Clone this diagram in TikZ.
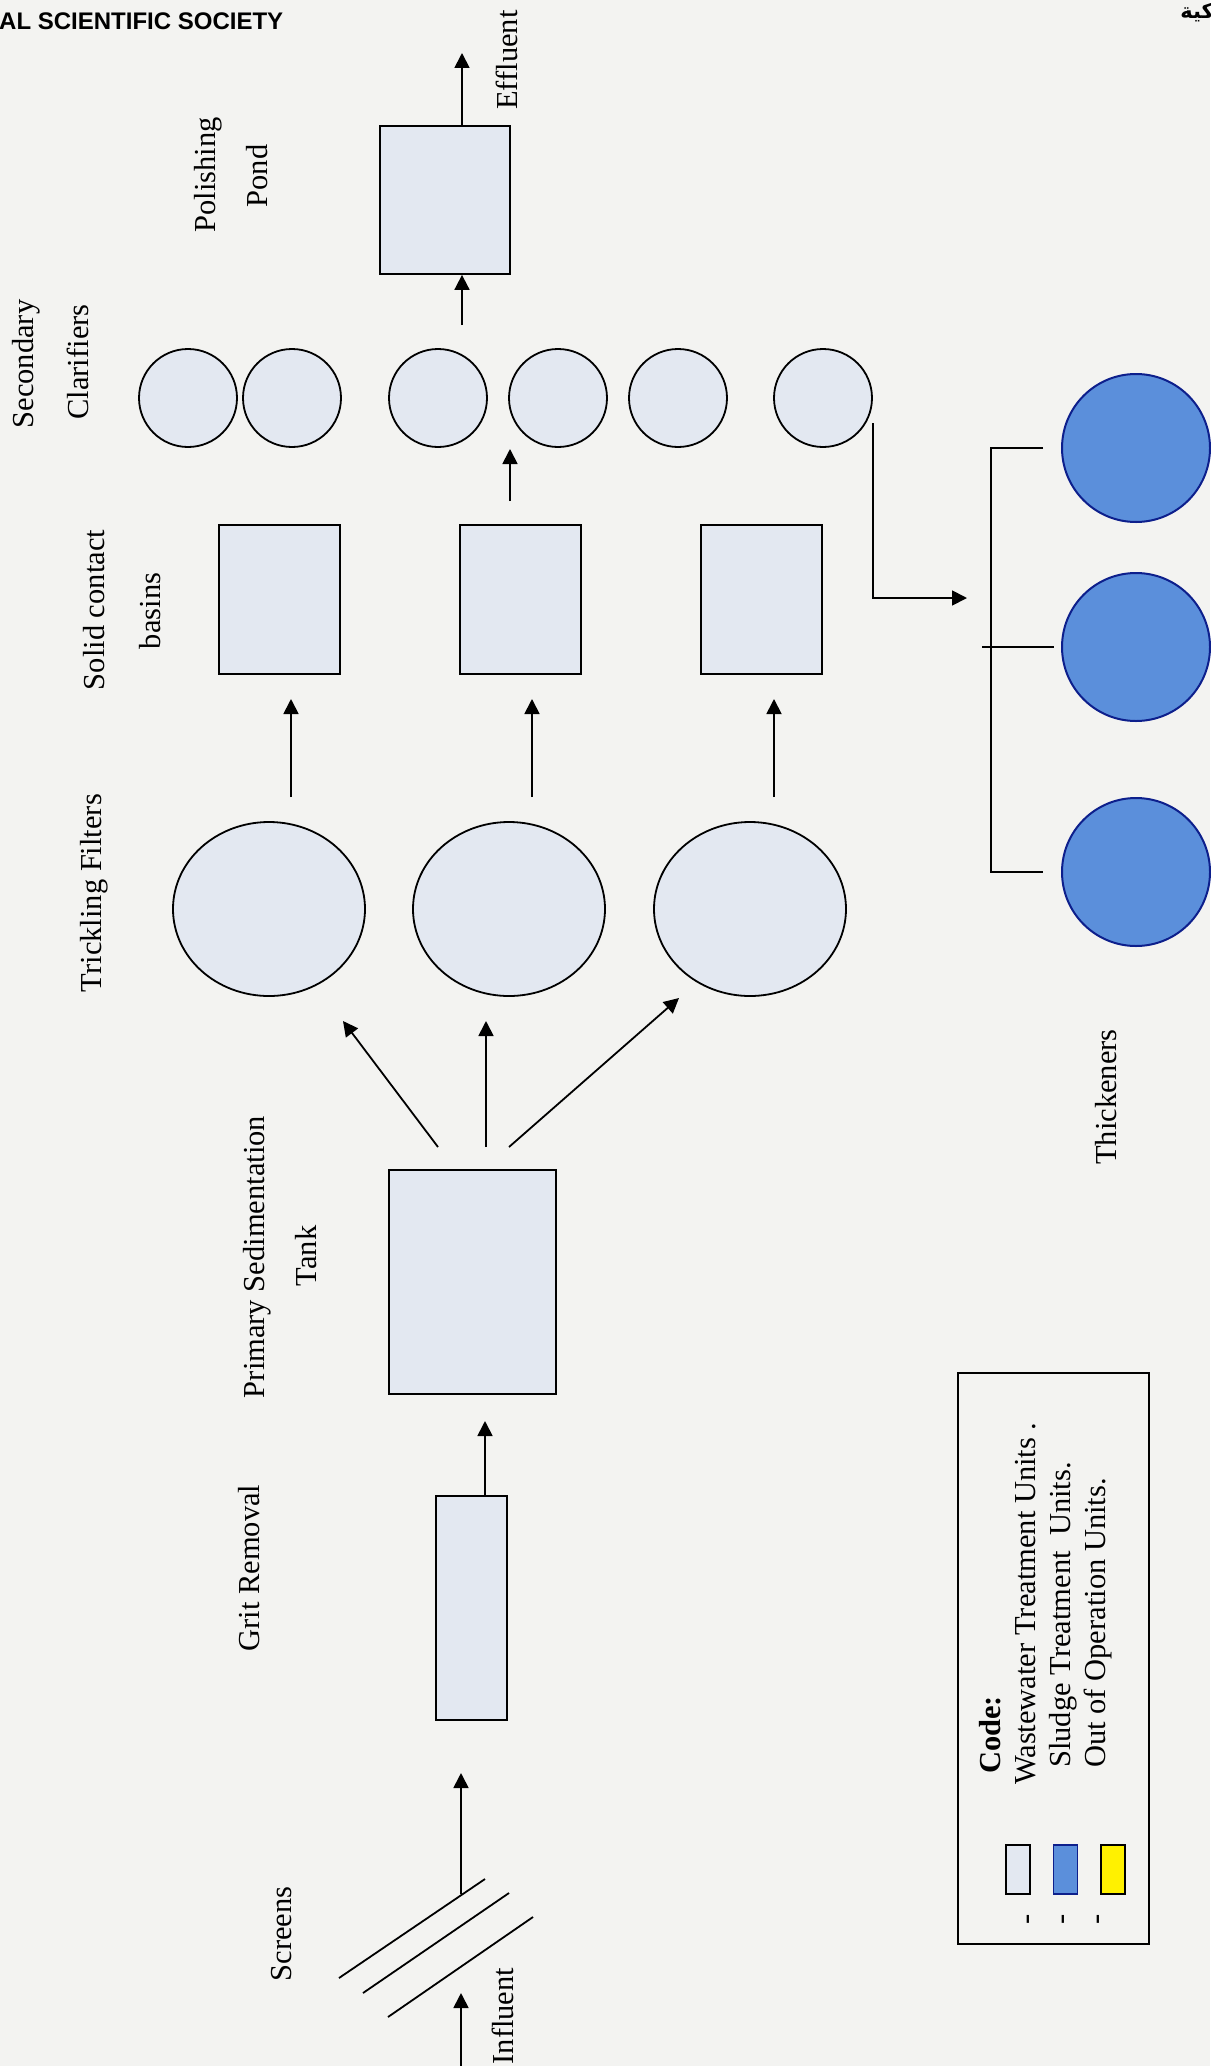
\documentclass[tikz,border=0pt]{standalone}
\usepackage{fontspec}
\setmainfont{Liberation Serif}
\newfontfamily\headfont{Liberation Sans}
\newfontfamily\arabicfont[Script=Arabic]{DejaVu Sans}
\TeXXeTstate=1
\usetikzlibrary{arrows.meta,shapes.geometric,calc}

\definecolor{paper}{HTML}{F3F3F1}
\definecolor{unitfill}{HTML}{E3E8F1}
\definecolor{sludgefill}{HTML}{5B8FDB}
\definecolor{sludgeline}{HTML}{0D1F8C}
\definecolor{offline}{HTML}{FFF100}

\begin{document}
\begin{tikzpicture}[x=1pt,y=-1pt,
  unit/.style={draw=black, fill=unitfill, line width=1.8pt, inner sep=0pt},
  tank/.style={unit, rectangle},
  clar/.style={unit, circle, minimum size=98pt},
  filter/.style={unit, ellipse, minimum width=192pt, minimum height=174pt},
  thickener/.style={circle, draw=sludgeline, fill=sludgefill, line width=2pt,
    minimum size=148pt, inner sep=0pt},
  lbl/.style={rotate=90, anchor=base, inner sep=0pt,
    font=\fontsize{30.5}{36}\selectfont},
  flow/.style={-{Triangle[length=15pt,width=15pt]}, line width=1.8pt},
  plain/.style={line width=1.8pt},
  swatch/.style={draw=black, line width=1.5pt, minimum width=24pt,
    minimum height=49pt, inner sep=0pt}]

% paper
\fill[paper] (0,0) rectangle (1210,2066);
\useasboundingbox (0,0) rectangle (1210,2066);

% page header
\node[anchor=base west, inner sep=0pt,
  font=\headfont\bfseries\fontsize{24}{29}\selectfont] (head) at (-1,30)
  {AL SCIENTIFIC SOCIETY};
\node[anchor=base east, inner sep=0pt,
  font=\arabicfont\bfseries\fontsize{21}{25}\selectfont] (headar) at (1214,19)
  {\beginR كية\endR};

% ---------- units ----------
\node[tank, minimum width=130pt, minimum height=148pt] (pond) at (445,200) {};

\node[clar] (c1) at (188,398) {};
\node[clar] (c2) at (292,398) {};
\node[clar] (c3) at (438,398) {};
\node[clar] (c4) at (558,398) {};
\node[clar] (c5) at (678,398) {};
\node[clar] (c6) at (823,398) {};

\node[tank, minimum width=121pt, minimum height=149pt] (b1) at (279.5,599.5) {};
\node[tank, minimum width=121pt, minimum height=149pt] (b2) at (520.5,599.5) {};
\node[tank, minimum width=121pt, minimum height=149pt] (b3) at (761.5,599.5) {};

\node[filter] (f1) at (269,909) {};
\node[filter] (f2) at (509,909) {};
\node[filter] (f3) at (750,909) {};

\node[tank, minimum width=167pt, minimum height=224pt] (pst) at (472.5,1282) {};
\node[tank, minimum width=71pt, minimum height=224pt] (grit) at (471.5,1608) {};

\node[thickener] (t1) at (1136,448) {};
\node[thickener] (t2) at (1136,647) {};
\node[thickener] (t3) at (1136,872) {};

% ---------- flow arrows ----------
\coordinate (effl) at (462,53);
\draw[flow] (pond.north -| effl) -- (effl);
\coordinate (pin) at (462,325);
\draw[flow] (pin) -- (pin |- pond.south);

\coordinate (bc0) at (510,501);
\coordinate (bc1) at (510,449);
\draw[flow] (bc0) -- (bc1);

\coordinate (fb1a) at (291,797); \coordinate (fb1b) at (291,699);
\coordinate (fb2a) at (532,797); \coordinate (fb2b) at (532,699);
\coordinate (fb3a) at (774,797); \coordinate (fb3b) at (774,699);
\draw[flow] (fb1a) -- (fb1b);
\draw[flow] (fb2a) -- (fb2b);
\draw[flow] (fb3a) -- (fb3b);

\coordinate (pf1a) at (438,1147); \coordinate (pf1b) at (343,1021);
\coordinate (pf2a) at (486,1147); \coordinate (pf2b) at (486,1021);
\coordinate (pf3a) at (509,1147); \coordinate (pf3b) at (679,998);
\draw[flow] (pf1a) -- (pf1b);
\draw[flow] (pf2a) -- (pf2b);
\draw[flow] (pf3a) -- (pf3b);

\coordinate (gp) at (485,1421);
\draw[flow] (grit.north -| gp) -- (gp);

% screens
\coordinate (s1a) at (339,1978); \coordinate (s1b) at (485,1879);
\coordinate (s2a) at (363,1993); \coordinate (s2b) at (509,1893);
\coordinate (s3a) at (388,2017); \coordinate (s3b) at (533,1917);
\draw[plain] (s1a) -- (s1b);
\draw[plain] (s2a) -- (s2b);
\draw[plain] (s3a) -- (s3b);
\coordinate (sg0) at (461,1894);
\coordinate (sg1) at (461,1773);
\draw[flow] (sg0) -- (sg1);
\coordinate (inf0) at (461,2070);
\coordinate (inf1) at (461,1993);
\draw[flow] (inf0) -- (inf1);

% sludge line to thickeners
\coordinate (sl) at (967,598);
\draw[flow] ($(c6.east)+(0,25)$) |- (sl);
\coordinate (br1) at (991,448);
\coordinate (br3) at (991,872);
\draw[plain] (1043,448) -- (br1) -- (br3) -- (1043,872);
\draw[plain] (982,647) -- (1054,647);

% ---------- labels ----------
\node[lbl] at (215,175) {Polishing};
\node[lbl] at (267,176) {Pond};
\node[lbl] at (517,60) {Effluent};
\node[lbl] at (33,364) {Secondary};
\node[lbl] at (88,362) {Clarifiers};
\node[lbl] at (104,610) {Solid contact};
\node[lbl] at (160,611) {basins};
\node[lbl] at (101,893) {Trickling Filters};
\node[lbl] at (264,1257) {Primary Sedimentation};
\node[lbl] at (316,1256) {Tank};
\node[lbl] at (259,1568) {Grit Removal};
\node[lbl] at (291,1934) {Screens};
\node[lbl] at (513,2016) {Influent};
\node[lbl] at (1116,1097) {Thickeners};

% ---------- legend ----------
\node[draw=black, line width=1.5pt, minimum width=191pt, minimum height=571pt,
  inner sep=0pt] (legend) at (1053.5,1658.5) {};
\node[lbl, anchor=base west, font=\bfseries\fontsize{30.5}{36}\selectfont]
  at (1000,1774) {Code:};
\node[lbl, anchor=base west] at (1035,1785) {Wastewater Treatment Units .};
\node[lbl, anchor=base west] at (1070,1768) {Sludge Treatment\ \ Units.};
\node[lbl, anchor=base west] at (1105,1768) {Out of Operation Units.};
\node[swatch, fill=unitfill] (sw1) at (1018,1869.5) {};
\node[swatch, draw=sludgeline, fill=sludgefill] (sw2) at (1065.5,1869.5) {};
\node[swatch, fill=offline] (sw3) at (1113,1869.5) {};
\node[lbl] at (1035,1919) {-};
\node[lbl] at (1070,1919) {-};
\node[lbl] at (1105,1919) {-};
\end{tikzpicture}
\end{document}
